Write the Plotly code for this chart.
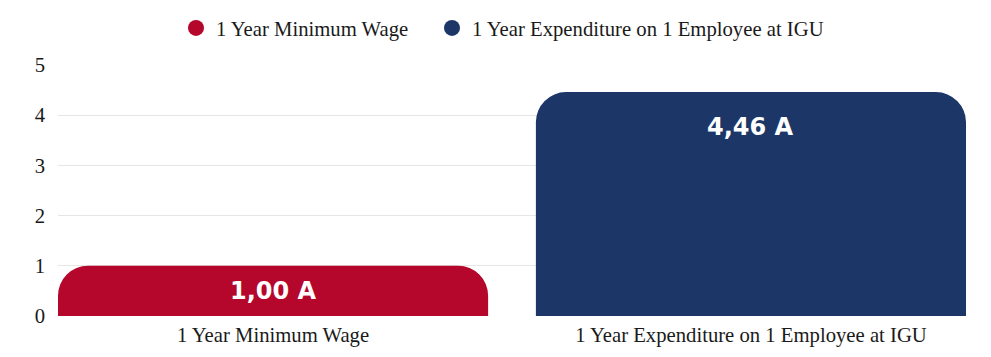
import plotly.graph_objects as go

categories = ["1 Year Minimum Wage", "1 Year Expenditure on 1 Employee at IGU"]
values = [1.00, 4.46]
value_labels = ["1,00 A", "4,46 A"]
colors = ["#B5062B", "#1C3767"]
y_ticks = [0, 1, 2, 3, 4, 5]

fig = go.Figure()
fig.add_trace(go.Bar(
    x=categories, y=values, marker=dict(color=colors, line=dict(width=0)),
    showlegend=False, hoverinfo="skip",
))
legend_ids = ["legend", "legend2"]
for name, c, lid in zip(categories, colors, legend_ids):
    fig.add_trace(go.Scatter(
        x=[None], y=[None], mode="markers", name=name, legend=lid,
        marker=dict(symbol="circle", size=18, color=c),
    ))

annotations = []
for cat, v, lab in zip(categories, values, value_labels):
    annotations.append(dict(
        x=cat, y=max(v / 2, v - 0.7), xref="x", yref="y", text=lab,
        showarrow=False, yanchor="middle",
        font=dict(family="DejaVu Sans", size=24, color="white", weight="bold"),
    ))

legend_common = dict(orientation="h", xref="container", xanchor="left",
                     y=1 - 20 / 357, yanchor="middle", yref="container",
                     font=dict(size=20.7), itemwidth=30, bgcolor="rgba(0,0,0,0)")

fig.update_layout(
    width=991, height=357,
    margin=dict(l=50, r=33, t=57, b=49, autoexpand=False),
    paper_bgcolor="white", plot_bgcolor="white",
    bargap=0.1, barcornerradius=30,
    font=dict(family="Liberation Serif", size=20.7, color="#1a1a1a"),
    legend=dict(x=168 / 991, **legend_common),
    legend2=dict(x=424 / 991, **legend_common),
    xaxis=dict(showgrid=False, showline=False, ticks="", automargin=False,
               range=[-0.45, 1.45], tickfont=dict(size=20.7), ticklabelstandoff=4),
    yaxis=dict(range=[0, 5], tickvals=y_ticks, showgrid=True, gridcolor="#e6e6e6",
               zeroline=False, ticks="", automargin=False, ticklabelstandoff=12,
               tickfont=dict(size=20.7)),
    annotations=annotations,
)
fig.write_html("out.html")
